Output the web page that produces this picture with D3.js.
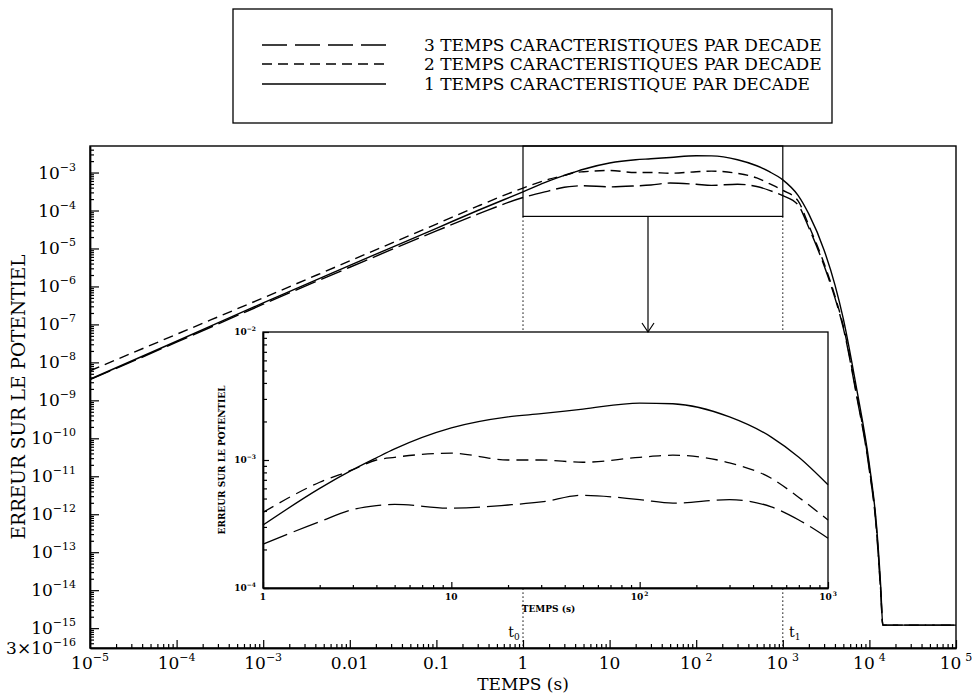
<!DOCTYPE html>
<html>
<head>
<meta charset="utf-8">
<script src="https://cdn.jsdelivr.net/npm/d3@7"></script>
<style>
  body { margin: 0; background: #fff; }
  svg { display: block; }
</style>
</head>
<body>
<svg id="chart" width="972" height="696"></svg>
<script>
// ---- data -------------------------------------------------------------
// sampling times (s)
const times = [1e-5, 1e-4, 1e-3, 1e-2, 0.1, 0.3, 1, 2, 3, 4, 5, 10, 20, 30, 50,
               100, 150, 300, 500, 700, 1000, 1500, 2000, 3000, 4000, 5000,
               7000, 1e4, 1.2e4, 1.35e4, 1.43e4, 1e5];

// error on the potential, 3 characteristic times per decade
const err3 = [3.5e-9, 3.4e-8, 3.4e-7, 3.2e-6, 2.9e-5, 8.0e-5, 2.2e-4, 3.3e-4,
              4.1e-4, 4.4e-4, 4.5e-4, 4.2e-4, 4.45e-4, 4.7e-4, 5.3e-4, 4.9e-4,
              4.6e-4, 4.9e-4, 4.3e-4, 3.4e-4, 2.45e-4, 1.4e-4, 3.5e-5, 3.5e-6,
              5e-7, 8e-8, 1.6e-9, 1.4e-11, 4.5e-13, 9e-15, 1.2e-15, 1.2e-15];

// error on the potential, 2 characteristic times per decade
const err2 = [6e-9, 5.5e-8, 5e-7, 4.7e-6, 4.4e-5, 1.3e-4, 3.9e-4, 6.7e-4,
              8.4e-4, 1.0e-3, 1.05e-3, 1.13e-3, 1.0e-3, 1.0e-3, 9.6e-4, 1.05e-3,
              1.09e-3, 9.5e-4, 7.2e-4, 5.1e-4, 3.4e-4, 1.8e-4, 4e-5, 4e-6,
              5.6e-7, 9e-8, 1.8e-9, 1.6e-11, 5e-13, 1e-14, 1.2e-15, 1.2e-15];

// error on the potential, 1 characteristic time per decade
const err1 = [3.6e-9, 3.6e-8, 3.7e-7, 3.6e-6, 3.4e-5, 1.0e-4, 3.1e-4, 6.0e-4,
              8.4e-4, 1.04e-3, 1.22e-3, 1.78e-3, 2.17e-3, 2.3e-3, 2.5e-3, 2.78e-3,
              2.75e-3, 2.17e-3, 1.51e-3, 1.05e-3, 6.4e-4, 2.5e-4, 8e-5, 9e-6,
              1.1e-6, 1.4e-7, 2.5e-9, 2e-11, 6e-13, 1.3e-14, 1.2e-15, 1.2e-15];

const seriesLabels = [
  "3 TEMPS CARACTERISTIQUES PAR DECADE",
  "2 TEMPS CARACTERISTIQUES PAR DECADE",
  "1 TEMPS CARACTERISTIQUE PAR DECADE"
];

// main axes ticks
const xTickValues = [1e-5, 1e-4, 1e-3, 1e-2, 0.1, 1, 10, 100, 1000, 1e4, 1e5];
const xTickLabels = [["10", "−5"], ["10", "−4"], ["10", "−3"], ["0.01", ""], ["0.1", ""],
                     ["1", ""], ["10", ""], ["10", "2"], ["10", "3"], ["10", "4"], ["10", "5"]];
const yTickValues = [1e-3, 1e-4, 1e-5, 1e-6, 1e-7, 1e-8, 1e-9, 1e-10, 1e-11, 1e-12,
                     1e-13, 1e-14, 1e-15, 3e-16];
const yTickLabels = [["10", "−3"], ["10", "−4"], ["10", "−5"], ["10", "−6"], ["10", "−7"],
                     ["10", "−8"], ["10", "−9"], ["10", "−10"], ["10", "−11"], ["10", "−12"],
                     ["10", "−13"], ["10", "−14"], ["10", "−15"], ["3×10", "−16"]];

// enlarged window [t0, t1] and its lower bound
const zoomTimes = [1, 1000];
const zoomLow = 7e-5;
const insetErrDomain = [1e-4, 1e-2];
const insetXTickValues = [1, 10, 100, 1000];
const insetXTickLabels = [["1", ""], ["10", ""], ["10", "2"], ["10", "3"]];
const insetYTickValues = [1e-4, 1e-3, 1e-2];
const insetYTickLabels = [["10", "−4"], ["10", "−3"], ["10", "−2"]];

// ---- drawing ------------------------------------------------------------
const svg = d3.select("#chart");
const FONT = "'DejaVu Serif', 'Liberation Serif', serif";

const M = { left: 90, right: 956, top: 146, bottom: 648 };
const x = d3.scaleLog().domain([1e-5, 1e5]).range([M.left, M.right]);
const y = d3.scaleLog().domain([3e-16, 5e-3]).range([M.bottom, M.top]);

const series = [
  { values: err3, dashMain: "22,6", dashInset: "26,7", dashLegend: "25,8" },
  { values: err2, dashMain: "10,6", dashInset: "12,7", dashLegend: "10,6" },
  { values: err1, dashMain: null,   dashInset: null,   dashLegend: null }
];

function logMinor(lo, hi) {
  const out = [];
  for (let e = Math.floor(Math.log10(lo)) - 1; e <= Math.ceil(Math.log10(hi)); e++) {
    for (let k = 2; k <= 9; k++) {
      const v = k * Math.pow(10, e);
      if (v >= lo * 1.0001 && v <= hi * 0.9999) out.push(v);
    }
  }
  return out;
}

// label with superscript part
function supLabel(g, px, py, parts, opts) {
  const t = g.append("text")
    .attr("x", px).attr("y", py)
    .attr("font-family", FONT)
    .attr("font-size", opts.size)
    .attr("font-weight", opts.weight || "normal")
    .attr("text-anchor", opts.anchor)
    .attr("fill", "#000");
  t.append("tspan").text(parts[0]);
  if (parts[1]) {
    t.append("tspan")
      .attr("font-size", opts.supSize)
      .attr("dx", opts.supDx || 0)
      .attr("dy", -opts.supRise)
      .text(parts[1]);
  }
  return t;
}

// clip for main curves
svg.append("defs").append("clipPath").attr("id", "mainClip")
  .append("rect")
  .attr("x", M.left).attr("y", M.top)
  .attr("width", M.right - M.left).attr("height", M.bottom - M.top);

// main axes ticks (inward)
const axisStyle = g => {
  g.select(".domain").attr("stroke", "#000").attr("stroke-width", 1.4);
  g.selectAll(".tick line").attr("stroke", "#000").attr("stroke-width", 1.2);
};
svg.append("g").attr("transform", `translate(${M.left},0)`)
  .call(d3.axisLeft(y).tickValues(yTickValues.filter(v => v > 4e-16)).tickSize(-9).tickSizeOuter(0).tickFormat(""))
  .call(axisStyle);
svg.append("g").attr("transform", `translate(${M.left},0)`)
  .call(d3.axisLeft(y).tickValues(logMinor(3e-16, 5e-3)).tickSize(-4).tickSizeOuter(0).tickFormat(""))
  .call(axisStyle);
svg.append("g").attr("transform", `translate(0,${M.bottom})`)
  .call(d3.axisBottom(x).tickValues(xTickValues).tickSize(-8).tickSizeOuter(0).tickFormat(""))
  .call(axisStyle);
svg.append("g").attr("transform", `translate(0,${M.bottom})`)
  .call(d3.axisBottom(x).tickValues(logMinor(1e-5, 1e5)).tickSize(-4).tickSizeOuter(0).tickFormat(""))
  .call(axisStyle);

// frame
svg.append("rect")
  .attr("x", M.left).attr("y", M.top)
  .attr("width", M.right - M.left).attr("height", M.bottom - M.top)
  .attr("fill", "none").attr("stroke", "#000").attr("stroke-width", 1.4);

// tick labels
const yLab = svg.append("g");
yTickValues.forEach((v, i) => {
  supLabel(yLab, 76, y(v) + 6, yTickLabels[i],
    { size: 17, supSize: 11, supRise: 8, anchor: "end" });
});
const xLab = svg.append("g");
xTickValues.forEach((v, i) => {
  const big = v >= 100;
  supLabel(xLab, x(v), 669, xTickLabels[i],
    { size: 17, supSize: 11, supRise: 8, supDx: big ? 4 : 0, anchor: "middle" });
});

// axis titles
svg.append("text")
  .attr("x", (M.left + M.right) / 2).attr("y", 690)
  .attr("text-anchor", "middle")
  .attr("font-family", FONT).attr("font-size", 17)
  .text("TEMPS (s)");
svg.append("text")
  .attr("transform", `translate(25,${(M.top + M.bottom) / 2}) rotate(-90)`)
  .attr("text-anchor", "middle")
  .attr("font-family", FONT).attr("font-size", 18.5)
  .text("ERREUR SUR LE POTENTIEL");

// curves
const lineMain = d3.line()
  .x(d => x(d[0])).y(d => y(d[1]))
  .curve(d3.curveMonotoneX);
const curves = svg.append("g").attr("clip-path", "url(#mainClip)");
series.forEach(s => {
  const pts = times.map((t, i) => [t, s.values[i]]);
  curves.append("path")
    .datum(pts)
    .attr("d", lineMain)
    .attr("fill", "none")
    .attr("stroke", "#000")
    .attr("stroke-width", 1.4)
    .attr("stroke-dasharray", s.dashMain);
});

// enlarged window outline and guide lines
const zx0 = x(zoomTimes[0]), zx1 = x(zoomTimes[1]), zyLow = y(zoomLow);
svg.append("rect")
  .attr("x", zx0).attr("y", M.top)
  .attr("width", zx1 - zx0).attr("height", zyLow - M.top)
  .attr("fill", "none").attr("stroke", "#000").attr("stroke-width", 1.2);
[zx0, zx1].forEach(px => {
  svg.append("line")
    .attr("x1", px).attr("x2", px).attr("y1", zyLow).attr("y2", M.bottom)
    .attr("stroke", "#000").attr("stroke-width", 1)
    .attr("stroke-dasharray", "1.5,2.5");
});
svg.append("text").attr("x", zx0 - 9).attr("y", 637)
  .attr("font-family", FONT).attr("font-size", 14).attr("text-anchor", "middle")
  .call(t => { t.append("tspan").text("t"); t.append("tspan").attr("font-size", 9).attr("dy", 3).text("0"); });
svg.append("text").attr("x", zx1 + 12).attr("y", 637)
  .attr("font-family", FONT).attr("font-size", 14).attr("text-anchor", "middle")
  .call(t => { t.append("tspan").text("t"); t.append("tspan").attr("font-size", 9).attr("dy", 3).text("1"); });

// ---- inset --------------------------------------------------------------
const I = { left: 263, right: 828, top: 332, bottom: 588 };
const xi = d3.scaleLog().domain(zoomTimes).range([I.left, I.right]);
const yi = d3.scaleLog().domain(insetErrDomain).range([I.bottom, I.top]);

svg.append("rect")
  .attr("x", I.left).attr("y", I.top)
  .attr("width", I.right - I.left).attr("height", I.bottom - I.top)
  .attr("fill", "#fff").attr("stroke", "none");

// arrow from window to inset
const ax = 648;
svg.append("line").attr("x1", ax).attr("x2", ax).attr("y1", zyLow).attr("y2", I.top)
  .attr("stroke", "#000").attr("stroke-width", 1.2);
svg.append("path")
  .attr("d", `M${ax - 6},${I.top - 9} L${ax},${I.top} L${ax + 6},${I.top - 9}`)
  .attr("fill", "none").attr("stroke", "#000").attr("stroke-width", 1.2);

svg.append("g").attr("transform", `translate(${I.left},0)`)
  .call(d3.axisLeft(yi).tickValues(insetYTickValues).tickSize(-6).tickSizeOuter(0).tickFormat(""))
  .call(axisStyle);
svg.append("g").attr("transform", `translate(${I.left},0)`)
  .call(d3.axisLeft(yi).tickValues(logMinor(1e-4, 1e-2)).tickSize(-4).tickSizeOuter(0).tickFormat(""))
  .call(axisStyle);
svg.append("g").attr("transform", `translate(0,${I.bottom})`)
  .call(d3.axisBottom(xi).tickValues(insetXTickValues).tickSize(-6).tickSizeOuter(0).tickFormat(""))
  .call(axisStyle);
svg.append("g").attr("transform", `translate(0,${I.bottom})`)
  .call(d3.axisBottom(xi).tickValues(logMinor(1, 1000)).tickSize(-3).tickSizeOuter(0).tickFormat(""))
  .call(axisStyle);

svg.append("rect")
  .attr("x", I.left).attr("y", I.top)
  .attr("width", I.right - I.left).attr("height", I.bottom - I.top)
  .attr("fill", "none").attr("stroke", "#000").attr("stroke-width", 1.3);

const lineInset = d3.line()
  .x(d => xi(d[0])).y(d => yi(d[1]))
  .curve(d3.curveMonotoneX);
series.forEach(s => {
  const pts = times.map((t, i) => [t, s.values[i]])
    .filter(d => d[0] >= zoomTimes[0] && d[0] <= zoomTimes[1]);
  svg.append("path")
    .datum(pts)
    .attr("d", lineInset)
    .attr("fill", "none")
    .attr("stroke", "#000")
    .attr("stroke-width", 1.3)
    .attr("stroke-dasharray", s.dashInset);
});

const iLab = svg.append("g");
insetYTickValues.forEach((v, i) => {
  supLabel(iLab, 256, yi(v) + 3, insetYTickLabels[i],
    { size: 9, supSize: 6, supRise: 4, anchor: "end", weight: "bold" });
});
insetXTickValues.forEach((v, i) => {
  supLabel(iLab, xi(v), 600, insetXTickLabels[i],
    { size: 9, supSize: 6, supRise: 4, supDx: 1, anchor: "middle", weight: "bold" });
});
svg.append("text")
  .attr("x", (I.left + I.right) / 2 + 3).attr("y", 612)
  .attr("text-anchor", "middle")
  .attr("font-family", FONT).attr("font-size", 9).attr("font-weight", "bold")
  .text("TEMPS (s)");
svg.append("text")
  .attr("transform", `translate(225,${(I.top + I.bottom) / 2}) rotate(-90)`)
  .attr("text-anchor", "middle")
  .attr("font-family", FONT).attr("font-size", 9).attr("font-weight", "bold")
  .text("ERREUR SUR LE POTENTIEL");

// ---- legend -------------------------------------------------------------
const L = { left: 233, right: 832, top: 9, bottom: 123 };
svg.append("rect")
  .attr("x", L.left).attr("y", L.top)
  .attr("width", L.right - L.left).attr("height", L.bottom - L.top)
  .attr("fill", "none").attr("stroke", "#000").attr("stroke-width", 1.3);
const rowsY = [45, 64, 84];
series.forEach((s, i) => {
  svg.append("line")
    .attr("x1", 262).attr("x2", 386).attr("y1", rowsY[i]).attr("y2", rowsY[i])
    .attr("stroke", "#000").attr("stroke-width", 1.3)
    .attr("stroke-dasharray", s.dashLegend);
  svg.append("text")
    .attr("x", 424).attr("y", rowsY[i] + 6)
    .attr("font-family", FONT).attr("font-size", 17)
    .text(seriesLabels[i]);
});
</script>
</body>
</html>
